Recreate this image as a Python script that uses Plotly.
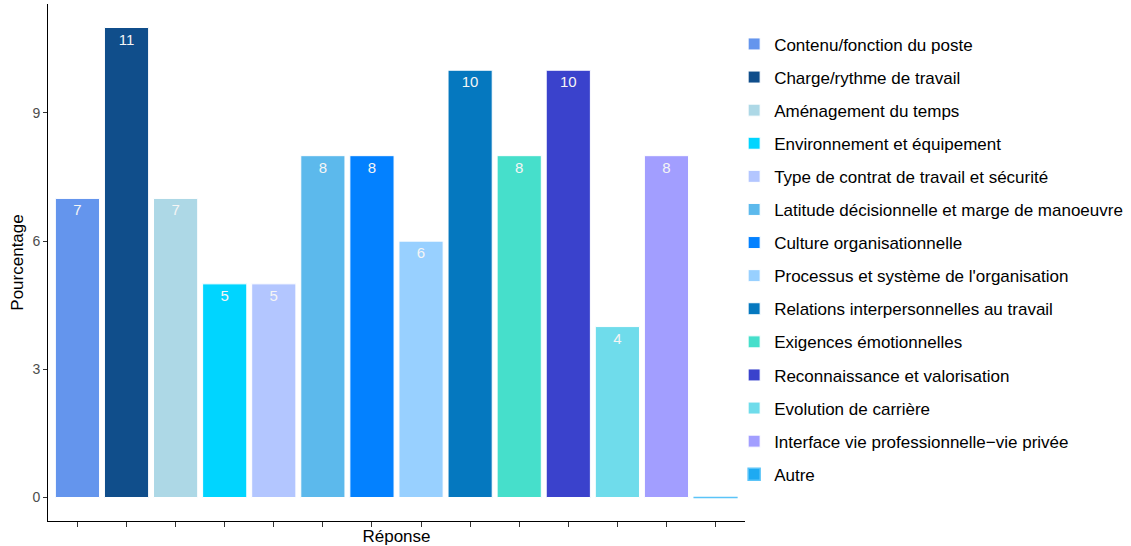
import plotly.graph_objects as go

# Catégories de réponse, valeurs (%) et couleurs
categories = [
    "Contenu/fonction du poste",
    "Charge/rythme de travail",
    "Aménagement du temps",
    "Environnement et équipement",
    "Type de contrat de travail et sécurité",
    "Latitude décisionnelle et marge de manoeuvre",
    "Culture organisationnelle",
    "Processus et système de l'organisation",
    "Relations interpersonnelles au travail",
    "Exigences émotionnelles",
    "Reconnaissance et valorisation",
    "Evolution de carrière",
    "Interface vie professionnelle\u2212vie privée",
    "Autre",
]
percentages = [7, 11, 7, 5, 5, 8, 8, 6, 10, 8, 10, 4, 8, 0]
colors = [
    "#6495ED", "#104E8B", "#ADD8E6", "#00D5FF", "#B3C6FF", "#5CB9EC", "#0381FF",
    "#98D0FF", "#0578BF", "#46DFCB", "#3A42CC", "#6FDCEB", "#A29EFF", "#1EAAF2",
]
y_ticks = [0, 3, 6, 9]

FONT = "Liberation Sans, Arial, sans-serif"

fig = go.Figure()

for cat, val, col in zip(categories, percentages, colors):
    fig.add_trace(go.Bar(
        x=[cat],
        y=[val],
        name=cat,
        legendgroup=cat,
        width=0.9,
        marker=dict(color=col,
                    line=dict(color="white" if val > 0 else "#5BC4F8",
                              width=1 if val > 0 else 1.5)),
        text=[str(val)] if val > 0 else None,
        textposition="inside",
        insidetextanchor="end",
        textfont=dict(color="#F5F5F5", size=15, family=FONT),
        hovertemplate="%{x}: %{y}<extra></extra>",
    ))

fig.update_layout(
    width=1131,
    height=546,
    margin=dict(l=48, r=385, t=4, b=25),
    plot_bgcolor="white",
    paper_bgcolor="white",
    font=dict(family=FONT, color="black"),
    showlegend=True,
    legend=dict(
        x=0.983, xanchor="left",
        y=0.506, yanchor="middle",
        font=dict(size=17, color="black", family=FONT),
        tracegroupgap=8,
        bgcolor="rgba(0,0,0,0)",
    ),
    barmode="overlay",
)

fig.update_xaxes(
    title=dict(text="Réponse", font=dict(size=17, color="black"), standoff=4),
    showticklabels=False,
    ticks="outside", ticklen=5, tickcolor="#333333",
    showline=True, linecolor="black", linewidth=1,
    showgrid=False, zeroline=False, automargin=False,
    range=[-0.6, 13.6],
    categoryorder="array", categoryarray=categories,
)

fig.update_yaxes(
    title=dict(text="Pourcentage", font=dict(size=17, color="black"), standoff=4),
    tickvals=y_ticks,
    tickfont=dict(size=14, color="#4D4D4D"),
    ticks="outside", ticklen=4, tickcolor="#333333",
    showline=True, linecolor="black", linewidth=1,
    showgrid=False, zeroline=False, automargin=False,
    range=[-0.55, 11.55],
)

# remove the default page margin so the figure fills the window
fig.write_html(
    "out.html",
    config={"displayModeBar": False},
    post_script="document.body.style.margin='0';",
)
